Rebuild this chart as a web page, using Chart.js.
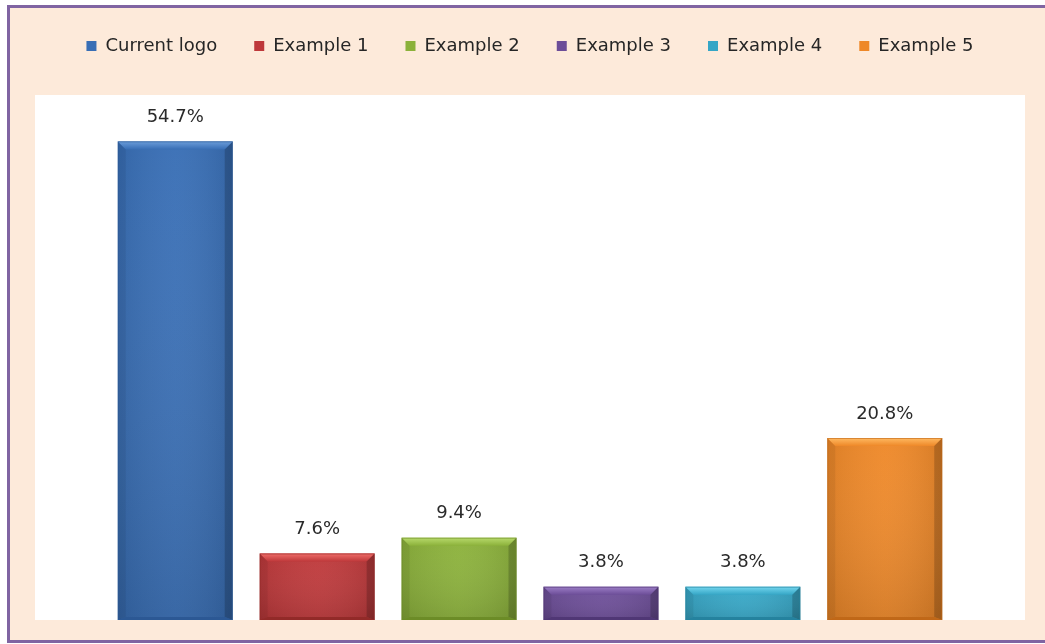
<!DOCTYPE html>
<html lang="en">

<head>
    <meta charset="UTF-8">
    <script src="https://cdn.jsdelivr.net/npm/chart.js"></script>
    <title>Logo survey</title>
    <style>
        html, body { margin: 0; padding: 0; background: #ffffff; }
        .quadro {
            position: absolute; left: 0; top: 0; width: 1045px; height: 644px;
            overflow: hidden;
        }
        .moldura {
            position: absolute; left: 7px; top: 5px; width: 1060px; height: 638px;
            box-sizing: border-box; border: 3px solid #8064A2; background: #FDEADA;
        }
        .grafico { position: absolute; left: 0; top: 0; width: 1045px; height: 644px; }
    </style>
</head>

<body>
    <div class="quadro">
        <div class="moldura"></div>
        <div class="grafico"><canvas id="myChart"></canvas></div>
    </div>
</body>

<script>
    // values
    const series = ['Current logo', 'Example 1', 'Example 2', 'Example 3', 'Example 4', 'Example 5'];
    const values = [54.7, 7.6, 9.4, 3.8, 3.8, 20.8];

    // main / light / dark shade for each bar
    const cores = ['#386EB5', '#BE383A', '#8BB13A', '#6C4D98', '#35A6C6', '#EE8828'];
    const coresClaras = ['#6C9DDA', '#F06E6A', '#B8DA6C', '#9C7EC6', '#74D6EE', '#FFBA62'];
    const coresEscuras = ['#2C5894', '#922A28', '#6C8C27', '#503775', '#25829E', '#C06818'];

    // white plot area
    const fundoPlot = {
        id: 'fundoPlot',
        beforeDraw(chart) {
            const a = chart.chartArea;
            chart.ctx.save();
            chart.ctx.fillStyle = '#ffffff';
            chart.ctx.fillRect(a.left, a.top, a.right - a.left, a.bottom - a.top);
            chart.ctx.restore();
        }
    };

    // extra room under the legend
    const margemLegenda = {
        id: 'margemLegenda',
        afterInit(chart) {
            const fit = chart.legend.fit;
            chart.legend.fit = function () {
                fit.bind(chart.legend)();
                this.height += 30;
            };
        }
    };

    function poligono(ctx, pts, cor) {
        ctx.beginPath();
        ctx.moveTo(pts[0][0], pts[0][1]);
        for (let i = 1; i < pts.length; i++) ctx.lineTo(pts[i][0], pts[i][1]);
        ctx.closePath();
        ctx.fillStyle = cor;
        ctx.fill();
    }

    // bevel edges + value labels
    const chanfro = {
        id: 'chanfro',
        afterDatasetsDraw(chart) {
            const ctx = chart.ctx;
            chart.data.datasets.forEach((ds, i) => {
                const bar = chart.getDatasetMeta(i).data[0];
                const p = bar.getProps(['x', 'y', 'base', 'width'], true);
                const l = p.x - p.width / 2, r = p.x + p.width / 2;
                const t = p.y, b = p.base;
                const e = 8;
                ctx.save();
                // body shading
                const g = ctx.createLinearGradient(l, 0, r, 0);
                g.addColorStop(0, 'rgba(0,0,0,0.08)');
                g.addColorStop(0.5, 'rgba(255,255,255,0.04)');
                g.addColorStop(1, 'rgba(0,0,0,0.10)');
                ctx.fillStyle = g;
                ctx.fillRect(l, t, r - l, b - t);
                const gv = ctx.createLinearGradient(0, t, 0, b);
                gv.addColorStop(0, 'rgba(255,255,255,0)');
                gv.addColorStop(1, 'rgba(0,0,0,0.10)');
                ctx.fillStyle = gv;
                ctx.fillRect(l, t, r - l, b - t);
                // top bevel
                const gt = ctx.createLinearGradient(0, t, 0, t + e);
                gt.addColorStop(0, coresClaras[i]);
                gt.addColorStop(1, cores[i]);
                poligono(ctx, [[l, t], [r, t], [r - e, t + e], [l + e, t + e]], gt);
                poligono(ctx, [[l, t], [l + e, t + e], [l + e, b - 3], [l, b]], 'rgba(0,0,0,0.06)');
                poligono(ctx, [[r, t], [r, b], [r - e, b - 3], [r - e, t + e]], 'rgba(0,0,0,0.18)');
                poligono(ctx, [[l, b], [r, b], [r - e, b - 3], [l + e, b - 3]], coresEscuras[i]);
                ctx.globalAlpha = 0.6;
                ctx.strokeStyle = coresEscuras[i];
                ctx.lineWidth = 1;
                ctx.strokeRect(l + 0.5, t + 0.5, r - l - 1, b - t - 1);
                ctx.restore();

                ctx.save();
                ctx.font = '18px "DejaVu Sans"';
                ctx.fillStyle = '#2a2a2a';
                ctx.textAlign = 'center';
                ctx.textBaseline = 'middle';
                ctx.fillText(ds.data[0].toFixed(1) + '%', p.x, t - 24);
                ctx.restore();
            });
        }
    };

    const dados = {
        labels: [''],
        datasets: series.map((nome, i) => ({
            label: nome,
            data: [values[i]],
            backgroundColor: cores[i],
            borderWidth: 0,
            categoryPercentage: 0.86,
            barPercentage: 0.81
        }))
    };

    const config = {
        type: 'bar',
        data: dados,
        options: {
            responsive: true,
            maintainAspectRatio: false,
            animation: false,
            layout: { padding: { left: 35, right: 20, top: 0, bottom: 24 } },
            scales: {
                x: { display: false },
                y: { display: false, min: 0, max: 60 }
            },
            plugins: {
                tooltip: { enabled: false },
                legend: {
                    position: 'top',
                    labels: {
                        boxWidth: 10,
                        boxHeight: 10,
                        padding: 37,
                        color: '#262626',
                        font: { family: 'DejaVu Sans', size: 18 }
                    }
                }
            }
        },
        plugins: [fundoPlot, margemLegenda, chanfro]
    };

    let myChart = new Chart(document.getElementById('myChart'), config);
</script>

</html>
